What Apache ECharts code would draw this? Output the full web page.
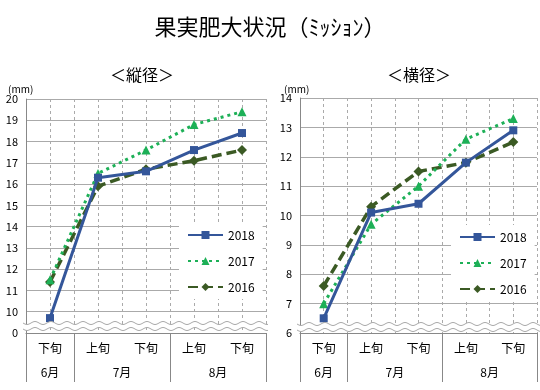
<!DOCTYPE html>
<html><head><meta charset="utf-8">
<script src="https://cdn.jsdelivr.net/npm/echarts@6/dist/echarts.min.js"></script>
<style>html,body{margin:0;padding:0;background:#fff}#c{width:540px;height:390px}</style>
</head><body><div id="c"></div>
<script>
const categories = ['下旬', '上旬', '下旬', '上旬', '下旬'];
const months = ['6月', '7月', '8月'];
const monthCenters = [1, 4, 8];
const monthBounds = [0, 2, 6, 10];
const seriesNames = ['2018', '2017', '2016'];
// 縦径 (length)
const len2018 = [9.7, 16.3, 16.6, 17.6, 18.4];
const len2017 = [11.5, 16.5, 17.6, 18.8, 19.4];
const len2016 = [11.4, 15.9, 16.7, 17.1, 17.6];
// 横径 (width)
const wid2018 = [6.5, 10.1, 10.4, 11.8, 12.9];
const wid2017 = [7.0, 9.7, 11.0, 12.6, 13.3];
const wid2016 = [7.6, 10.3, 11.5, 11.8, 12.5];

const FONT = '"Noto Sans CJK JP", sans-serif';
const colors = ['#34569A', '#1DB057', '#3B5A24'];
const lineStyles = [
  { width: 3, type: 'solid' },
  { width: 3, type: [3, 4] },
  { width: 3.5, type: [10, 5] }
];
const symbols = ['rect', 'triangle', 'diamond'];
const symbolSizes = [8, 9, 10];

const grids = [
  { left: 26, top: 99, width: 240, height: 234 },
  { left: 300, top: 98, width: 237, height: 235 }
];

function makeX(gi) {
  return [
    { gridIndex: gi, type: 'category', data: categories, boundaryGap: true,
      axisLine: { lineStyle: { color: '#888', width: 1 } },
      axisTick: { show: false },
      axisLabel: { color: '#000', fontSize: 12, fontFamily: FONT, margin: 9 },
      splitLine: { show: false } },
    { gridIndex: gi, type: 'value', min: 0, max: 10, interval: 1, position: 'bottom',
      axisLine: { show: false }, axisTick: { show: false }, axisLabel: { show: false },
      splitLine: { show: true, lineStyle: { color: '#aaa', type: [3, 3], width: 1 } } },
    { gridIndex: gi, type: 'value', min: 0, max: 10, position: 'bottom',
      axisLine: { show: false },
      axisTick: { show: true, customValues: monthBounds, length: 49, lineStyle: { color: '#888' } },
      axisLabel: { show: true, customValues: monthCenters, color: '#000', fontSize: 12, fontFamily: FONT, margin: 33,
        formatter: v => months[monthCenters.indexOf(v)] },
      splitLine: { show: false } }
  ];
}
const xAxis = makeX(0).concat(makeX(1));

const yAxis = [
  { gridIndex: 0, type: 'value', min: 9, max: 20, interval: 1,
    axisLine: { show: true, lineStyle: { color: '#888' } }, axisTick: { show: false },
    axisLabel: { color: '#000', fontSize: 11, fontFamily: FONT, margin: 8, formatter: v => v === 9 ? '0' : String(v) },
    splitLine: { lineStyle: { color: '#aaa', width: 1 } } },
  { gridIndex: 1, type: 'value', min: 6, max: 14, interval: 1,
    axisLine: { show: true, lineStyle: { color: '#888' } }, axisTick: { show: false },
    axisLabel: { color: '#000', fontSize: 11, fontFamily: FONT, margin: 8 },
    splitLine: { lineStyle: { color: '#aaa', width: 1 } } }
];

const dataSets = [[len2018, len2017, len2016], [wid2018, wid2017, wid2016]];
const series = [];
dataSets.forEach((set, gi) => {
  set.forEach((vals, i) => {
    series.push({
      name: seriesNames[i], type: 'line', xAxisIndex: gi * 3, yAxisIndex: gi,
      data: vals, symbol: symbols[i], symbolSize: symbolSizes[i],
      itemStyle: { color: colors[i] }, lineStyle: Object.assign({ color: colors[i] }, lineStyles[i]),
      z: 10 - i, animation: false
    });
  });
});

function wave(x0, x1, y) {
  const pts = [];
  for (let x = x0; x <= x1; x += 1) pts.push([x, y + 1.5 * Math.sin((x - x0) / 16 * 2 * Math.PI)]);
  return pts;
}
function breakGraphics(x0, x1, yc) {
  return [
    { type: 'polygon', z: 100, shape: { points: wave(x0, x1, yc - 3).concat(wave(x0, x1, yc + 3).reverse()) }, style: { fill: '#fff' } },
    { type: 'polyline', z: 101, shape: { points: wave(x0, x1, yc - 3) }, style: { stroke: '#aaa', lineWidth: 1, fill: null } },
    { type: 'polyline', z: 101, shape: { points: wave(x0, x1, yc + 3) }, style: { stroke: '#aaa', lineWidth: 1, fill: null } }
  ];
}

const legendBase = {
  orient: 'vertical', itemWidth: 35, itemHeight: 10, itemGap: 14,
  backgroundColor: '#fff', padding: [6, 8, 6, 8],
  textStyle: { color: '#000', fontSize: 12, fontFamily: FONT }, data: seriesNames, z: 200
};

const chart = echarts.init(document.getElementById('c'), null, { renderer: 'canvas' });
chart.setOption({
  backgroundColor: '#fff',
  animation: false,
  title: [
    { text: '果実肥大状況（ﾐｯｼｮﾝ）', left: 'center', top: 11, textStyle: { fontSize: 22, fontWeight: 'normal', color: '#000', fontFamily: FONT } },
    { text: '＜縦径＞', left: 105, top: 62, textStyle: { fontSize: 16, fontWeight: 'normal', color: '#000', fontFamily: FONT } },
    { text: '＜横径＞', left: 382, top: 62, textStyle: { fontSize: 16, fontWeight: 'normal', color: '#000', fontFamily: FONT } },
    { text: '(mm)', left: 3, top: 79, textStyle: { fontSize: 10, fontWeight: 'normal', color: '#000', fontFamily: FONT } },
    { text: '(mm)', left: 279, top: 79, textStyle: { fontSize: 10, fontWeight: 'normal', color: '#000', fontFamily: FONT } }
  ],
  grid: grids,
  xAxis: xAxis,
  yAxis: yAxis,
  legend: [
    Object.assign({ left: 179, top: 223 }, legendBase),
    Object.assign({ left: 451, top: 225 }, legendBase)
  ],
  graphic: breakGraphics(23, 268, 326).concat(breakGraphics(297, 540, 327)),
  series: series
});
</script></body></html>
